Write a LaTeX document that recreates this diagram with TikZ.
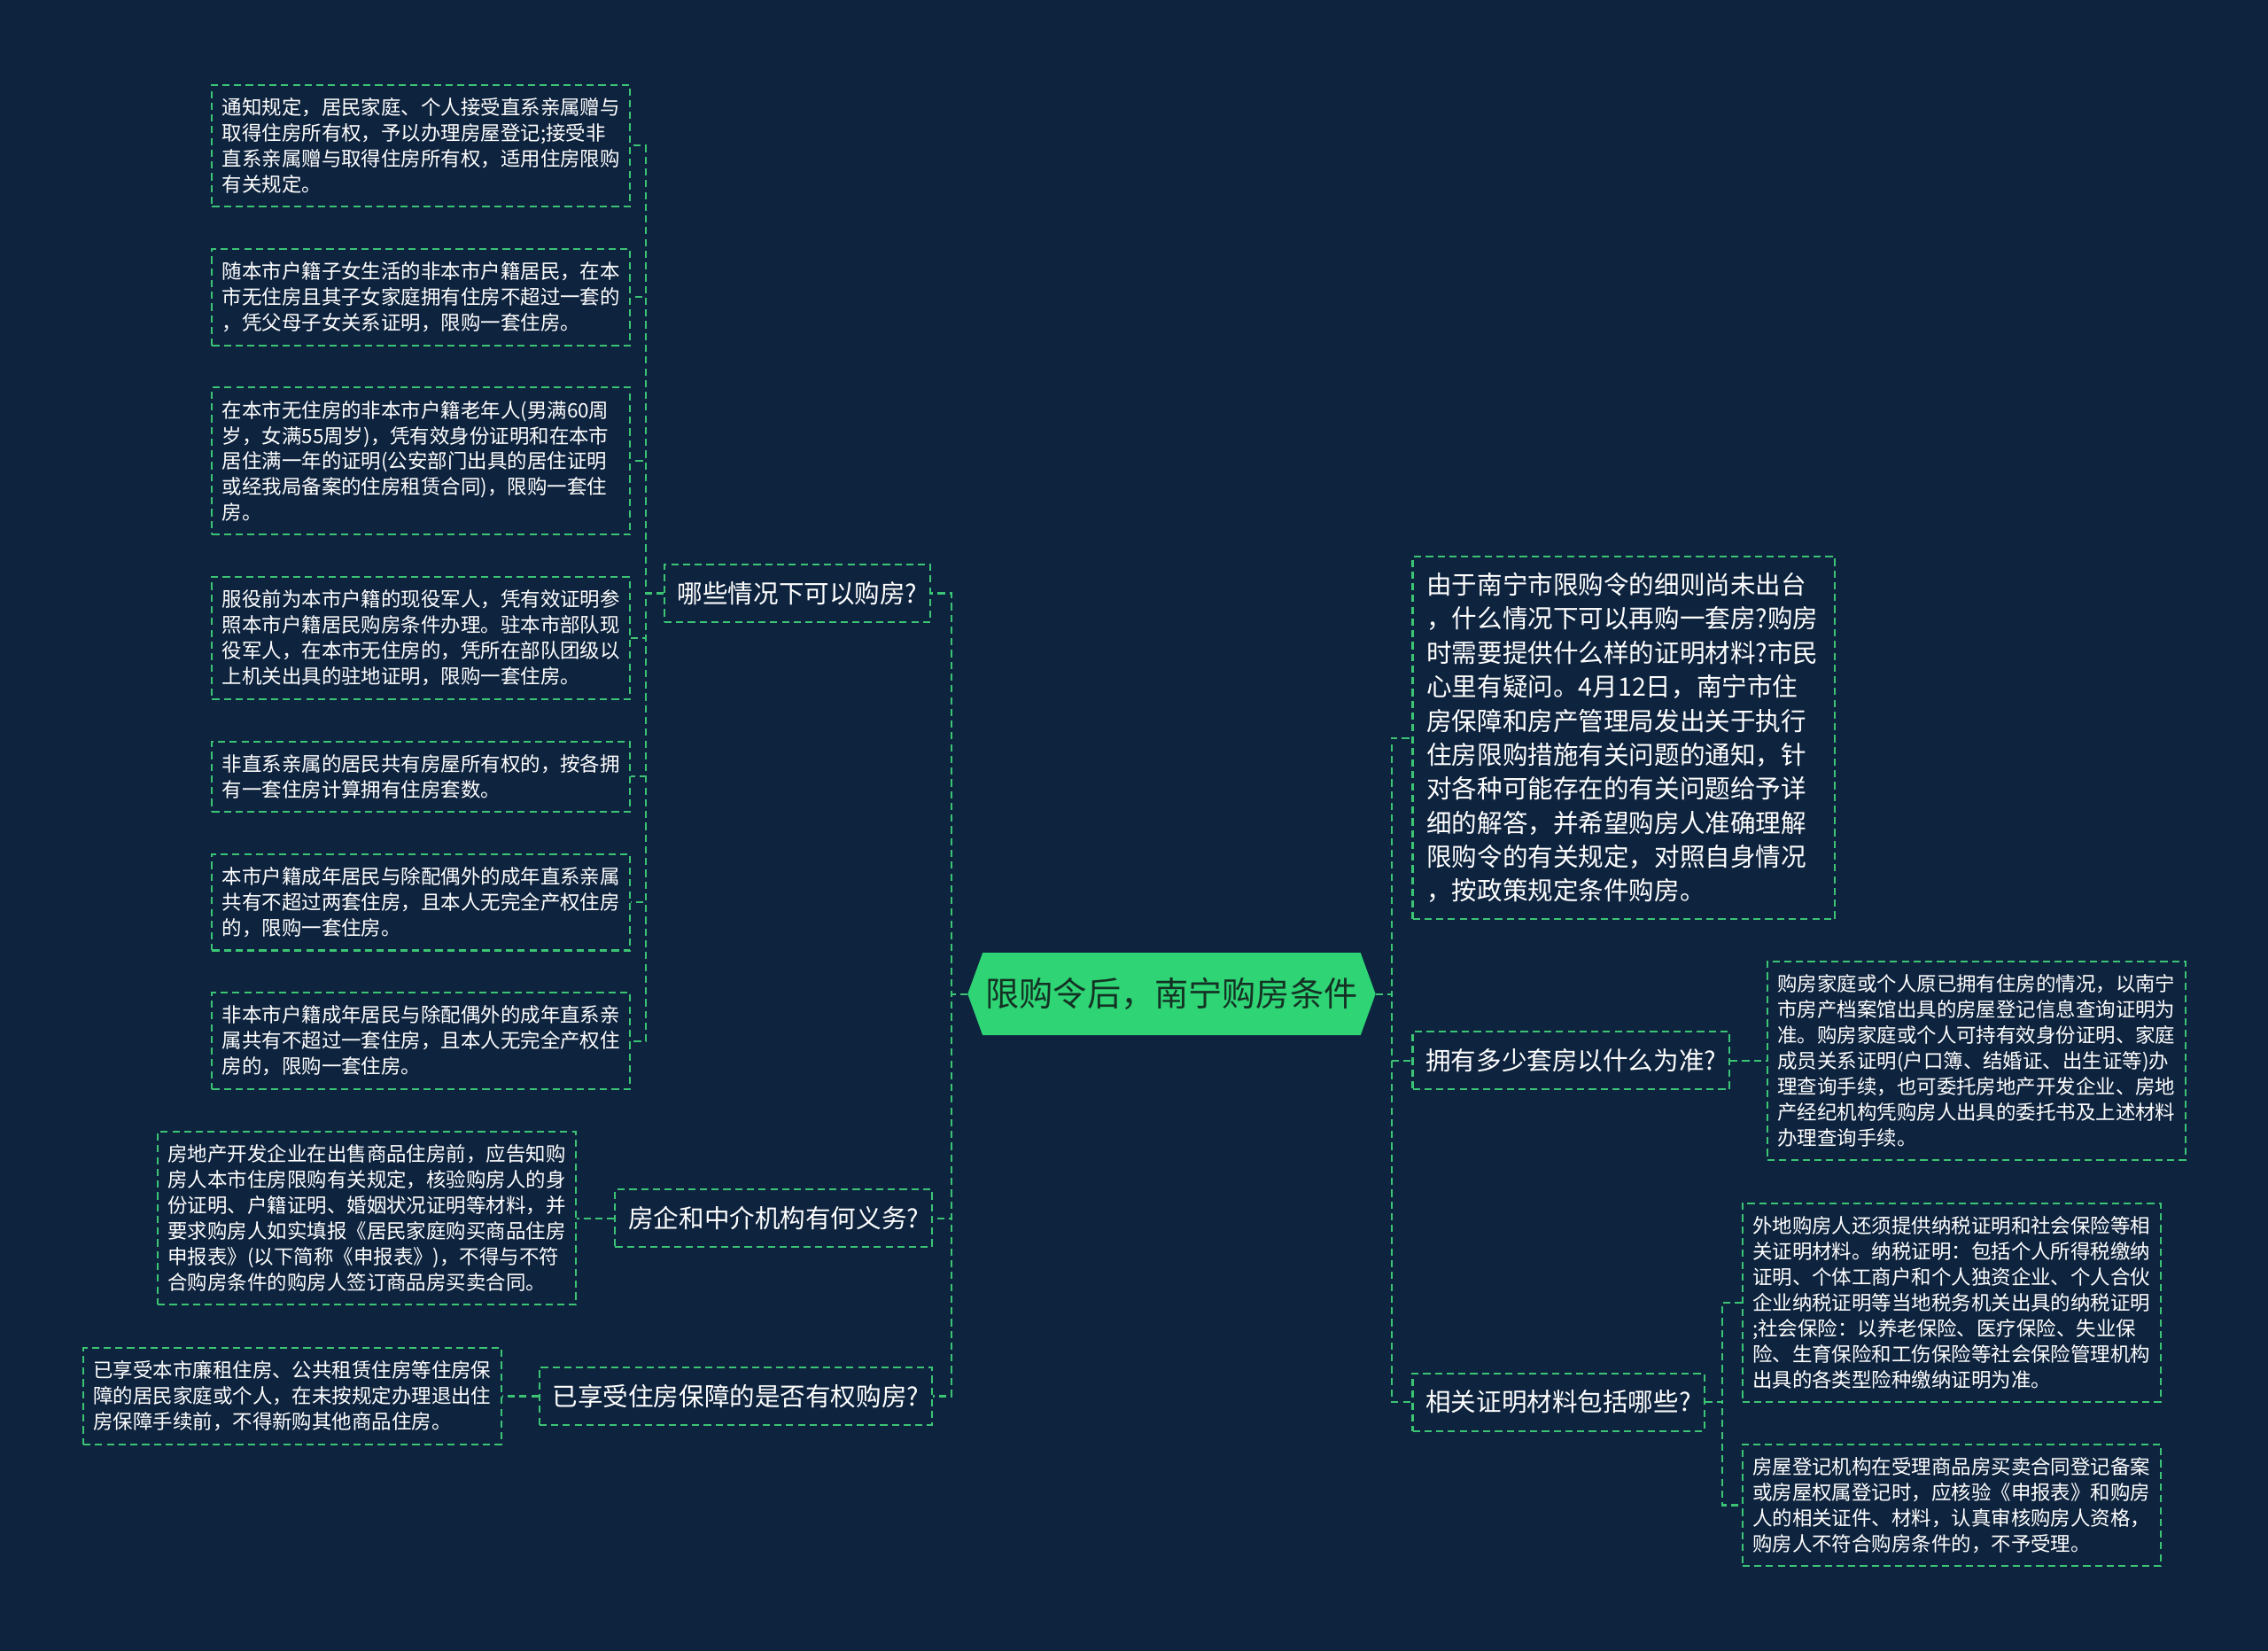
\documentclass[tikz,border=0pt]{standalone}
\usepackage{fontspec}
\setmainfont{Noto Sans CJK SC}
\usetikzlibrary{positioning,shapes.symbols}
\definecolor{bgnavy}{HTML}{0E233E}
\definecolor{dashgreen}{HTML}{3CC475}
\definecolor{hubgreen}{HTML}{2FD475}
\definecolor{hubtext}{HTML}{143224}

\begin{document}
\begin{tikzpicture}[
  x=0.8pt, y=-0.8pt,
  leaf/.style={draw=dashgreen, dash pattern=on 4pt off 2.5pt, line width=1pt,
               text=white, align=left, text width=220pt, inner xsep=5.6pt,
               inner ysep=7.2pt, font=\fontsize{11}{14.2}\selectfont},
  bigleaf/.style={leaf, text width=218pt, inner xsep=7.8pt, inner ysep=9pt,
                  font=\fontsize{14}{18.8}\selectfont},
  topic/.style={draw=dashgreen, dash pattern=on 4pt off 2.5pt, line width=1pt,
                text=white, inner xsep=7.3pt, inner ysep=9.4pt,
                font=\fontsize{14}{18.8}\selectfont},
  hub/.style={signal, signal to=west and east, signal pointer angle=140,
              fill=hubgreen, text=hubtext, minimum width=225.6pt, minimum height=45.6pt,
              inner sep=0pt, font=\fontsize{18.7}{22}\selectfont},
  link/.style={dashgreen, line width=1.1pt, dash pattern=on 4pt off 2.5pt},
  node distance=22.4pt
]
\fill[bgnavy] (0,0) rectangle (1568,1141);
% ----- centre -----
\node[hub] (hub) at (810,687) {限购令后，南宁购房条件};
% ----- left topics -----
\node[topic, anchor=east] (qbuy) at (644,410) {哪些情况下可以购房?};
\node[topic, anchor=east] (qduty) at (645,842) {房企和中介机构有何义务?};
\node[topic, anchor=east] (qaid) at (645,965) {已享受住房保障的是否有权购房?};
% ----- right topics -----
\node[bigleaf, anchor=west] (intro) at (976,510)
  {由于南宁市限购令的细则尚未出台\\，什么情况下可以再购一套房?购房\\时需要提供什么样的证明材料?市民\\心里有疑问。4月12日，南宁市住\\房保障和房产管理局发出关于执行\\住房限购措施有关问题的通知，针\\对各种可能存在的有关问题给予详\\细的解答，并希望购房人准确理解\\限购令的有关规定，对照自身情况\\，按政策规定条件购房。};
\node[topic, anchor=west] (qcount) at (976,733) {拥有多少套房以什么为准?};
\node[topic, anchor=west] (qdocs) at (976,969) {相关证明材料包括哪些?};
% ----- leaves of qbuy -----
\node[leaf, anchor=north west] (gift) at (146,58)
  {通知规定，居民家庭、个人接受直系亲属赠与\\取得住房所有权，予以办理房屋登记;接受非\\直系亲属赠与取得住房所有权，适用住房限购\\有关规定。};
\node[leaf, below=of gift] (parent)
  {随本市户籍子女生活的非本市户籍居民，在本\\市无住房且其子女家庭拥有住房不超过一套的\\，凭父母子女关系证明，限购一套住房。};
\node[leaf, below=of parent] (elder)
  {在本市无住房的非本市户籍老年人(男满60周\\岁，女满55周岁)，凭有效身份证明和在本市\\居住满一年的证明(公安部门出具的居住证明\\或经我局备案的住房租赁合同)，限购一套住\\房。};
\node[leaf, below=of elder] (army)
  {服役前为本市户籍的现役军人，凭有效证明参\\照本市户籍居民购房条件办理。驻本市部队现\\役军人，在本市无住房的，凭所在部队团级以\\上机关出具的驻地证明，限购一套住房。};
\node[leaf, below=of army] (share)
  {非直系亲属的居民共有房屋所有权的，按各拥\\有一套住房计算拥有住房套数。};
\node[leaf, below=of share] (local)
  {本市户籍成年居民与除配偶外的成年直系亲属\\共有不超过两套住房，且本人无完全产权住房\\的，限购一套住房。};
\node[leaf, below=of local] (nonlocal)
  {非本市户籍成年居民与除配偶外的成年直系亲\\属共有不超过一套住房，且本人无完全产权住\\房的，限购一套住房。};
% ----- other leaves -----
\node[leaf, left=20.8pt of qduty] (dutyleaf)
  {房地产开发企业在出售商品住房前，应告知购\\房人本市住房限购有关规定，核验购房人的身\\份证明、户籍证明、婚姻状况证明等材料，并\\要求购房人如实填报《居民家庭购买商品住房\\申报表》(以下简称《申报表》)，不得与不符\\合购房条件的购房人签订商品房买卖合同。};
\node[leaf, left=20pt of qaid] (aidleaf)
  {已享受本市廉租住房、公共租赁住房等住房保\\障的居民家庭或个人，在未按规定办理退出住\\房保障手续前，不得新购其他商品住房。};
\node[leaf, right=20pt of qcount] (countleaf)
  {购房家庭或个人原已拥有住房的情况，以南宁\\市房产档案馆出具的房屋登记信息查询证明为\\准。购房家庭或个人可持有效身份证明、家庭\\成员关系证明(户口簿、结婚证、出生证等)办\\理查询手续，也可委托房地产开发企业、房地\\产经纪机构凭购房人出具的委托书及上述材料\\办理查询手续。};
\node[leaf, anchor=north west] (taxleaf) at (1204,831)
  {外地购房人还须提供纳税证明和社会保险等相\\关证明材料。纳税证明：包括个人所得税缴纳\\证明、个体工商户和个人独资企业、个人合伙\\企业纳税证明等当地税务机关出具的纳税证明\\;社会保险：以养老保险、医疗保险、失业保\\险、生育保险和工伤保险等社会保险管理机构\\出具的各类型险种缴纳证明为准。};
\node[leaf, below=of taxleaf] (regleaf)
  {房屋登记机构在受理商品房买卖合同登记备案\\或房屋权属登记时，应核验《申报表》和购房\\人的相关证件、材料，认真审核购房人资格，\\购房人不符合购房条件的，不予受理。};
% ----- connectors -----
\foreach \t in {qbuy, qduty, qaid}{\draw[link] (hub.west) -- ++(-11,0) |- (\t.east);}
\foreach \t in {intro, qcount, qdocs}{\draw[link] (hub.east) -- ++(11,0) |- (\t.west);}
\foreach \t in {gift, parent, elder, army, share, local, nonlocal}{\draw[link] (qbuy.west) -- ++(-12,0) |- (\t.east);}
\draw[link] (qduty) -- (dutyleaf);
\draw[link] (qaid) -- (aidleaf);
\draw[link] (qcount) -- (countleaf);
\foreach \t in {taxleaf, regleaf}{\draw[link] (qdocs.east) -- ++(12,0) |- (\t.west);}
\end{tikzpicture}
\end{document}
